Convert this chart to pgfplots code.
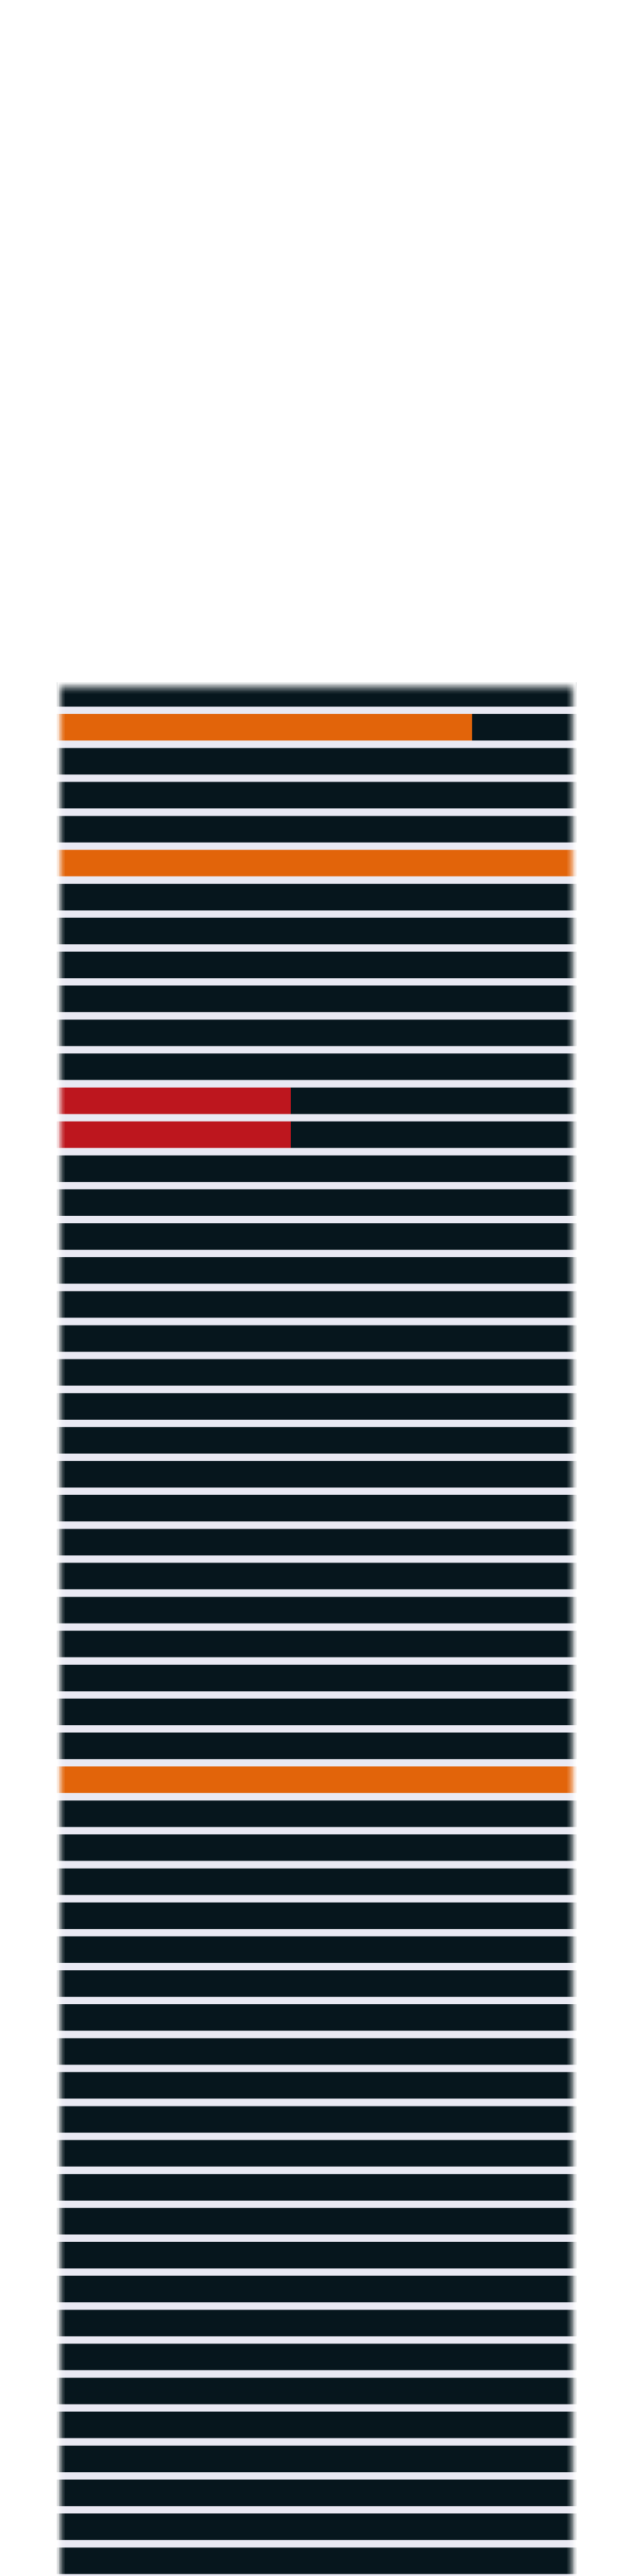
\documentclass[border=0pt]{standalone}
\usepackage{pgfplots}
\pgfplotsset{compat=1.18}
\usepackage{pgfplotstable}
\definecolor{darkbar}{HTML}{06161D}
\definecolor{orangebar}{HTML}{E2640A}
\definecolor{redbar}{HTML}{BD161E}
\definecolor{gapcol}{HTML}{E9E9F3}
\pgfplotstableread{
row o r d
0 0 0 1
1 0.80 0 0.20
2 0 0 1
3 0 0 1
4 0 0 1
5 1 0 0
6 0 0 1
7 0 0 1
8 0 0 1
9 0 0 1
10 0 0 1
11 0 0 1
12 0 0.45 0.55
13 0 0.45 0.55
14 0 0 1
15 0 0 1
16 0 0 1
17 0 0 1
18 0 0 1
19 0 0 1
20 0 0 1
21 0 0 1
22 0 0 1
23 0 0 1
24 0 0 1
25 0 0 1
26 0 0 1
27 0 0 1
28 0 0 1
29 0 0 1
30 0 0 1
31 0 0 1
32 1 0 0
33 0 0 1
34 0 0 1
35 0 0 1
36 0 0 1
37 0 0 1
38 0 0 1
39 0 0 1
40 0 0 1
41 0 0 1
42 0 0 1
43 0 0 1
44 0 0 1
45 0 0 1
46 0 0 1
47 0 0 1
48 0 0 1
49 0 0 1
50 0 0 1
51 0 0 1
52 0 0 1
53 0 0 1
54 0 0 1
55 0 0 1
}\rows
\begin{document}
\begin{tikzpicture}
\fill[white] (0,0) rectangle (215pt,875pt);
\useasboundingbox (0,0) rectangle (215pt,875pt);
\begin{axis}[
  at={(19.5pt,0pt)}, anchor=south west,
  scale only axis,
  width=176pt, height=643.25pt,
  xbar stacked, bar width=9pt,
  xmin=0, xmax=1, ymin=-0.325, ymax=55.45,
  y dir=reverse,
  enlargelimits=false,
  axis lines=none, ticks=none,
  axis background/.style={fill=gapcol},
  every axis plot/.append style={draw=none},
]
\addplot[fill=orangebar] table[x=o,y=row] {\rows};
\addplot[fill=redbar] table[x=r,y=row] {\rows};
\addplot[fill=darkbar] table[x=d,y=row] {\rows};
\end{axis}
\begin{scope}[x=0.25pt,y=0.25pt]
  % left fade
  \foreach \k/\op in {0/0.85,1/0.6,2/0.4,3/0.22,4/0.1}{
    \fill[white,opacity=\op] ({78+2*\k},0) rectangle ({80+2*\k},{3500-927});
  }
  % right fade
  \foreach \k/\op in {0/0.85,1/0.65,2/0.45,3/0.3,4/0.18,5/0.08}{
    \fill[white,opacity=\op] ({780-2*\k},0) rectangle ({782-2*\k},{3500-927});
  }
  % top fade
  \foreach \k/\op in {0/0.9,1/0.75,2/0.6,3/0.45,4/0.32,5/0.2,6/0.1,7/0.04}{
    \fill[white,opacity=\op] (78,{3500-927-2*\k}) rectangle (782,{3500-929-2*\k});
  }
\end{scope}
\end{tikzpicture}
\end{document}
